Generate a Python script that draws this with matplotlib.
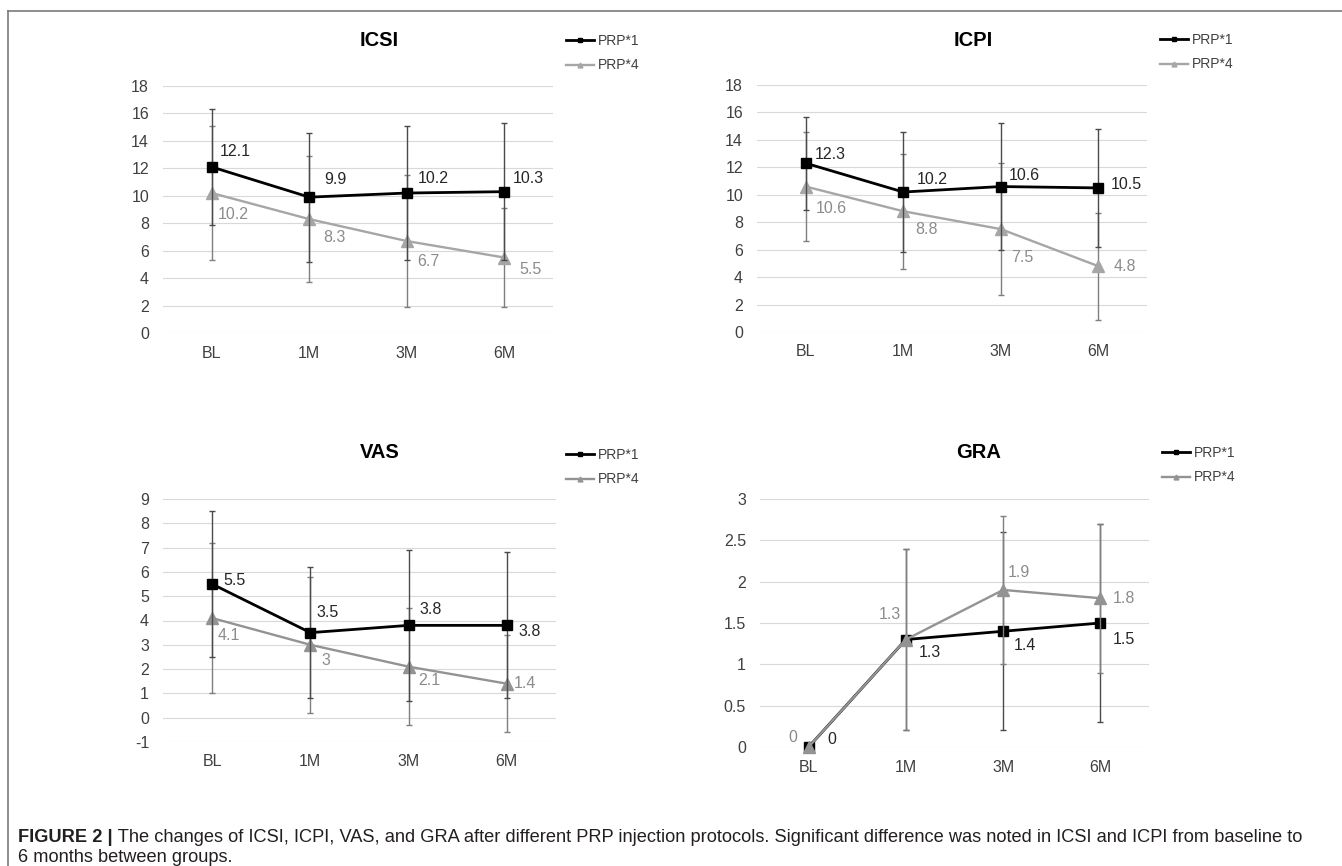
import matplotlib
matplotlib.use('Agg')
import matplotlib.pyplot as plt
from matplotlib.lines import Line2D

# ---- data ----
timepoints = ['BL', '1M', '3M', '6M']
series_names = ['PRP*1', 'PRP*4']

icsi_prp1 = [12.1, 9.9, 10.2, 10.3]
icsi_prp1_sd = [4.2, 4.7, 4.9, 5.0]
icsi_prp4 = [10.2, 8.3, 6.7, 5.5]
icsi_prp4_sd = [4.9, 4.6, 4.8, 3.6]

icpi_prp1 = [12.3, 10.2, 10.6, 10.5]
icpi_prp1_sd = [3.4, 4.4, 4.6, 4.3]
icpi_prp4 = [10.6, 8.8, 7.5, 4.8]
icpi_prp4_sd = [4.0, 4.2, 4.8, 3.9]

vas_prp1 = [5.5, 3.5, 3.8, 3.8]
vas_prp1_sd = [3.0, 2.7, 3.1, 3.0]
vas_prp4 = [4.1, 3.0, 2.1, 1.4]
vas_prp4_sd = [3.1, 2.8, 2.4, 2.0]

gra_prp1 = [0, 1.3, 1.4, 1.5]
gra_prp1_sd = [0, 1.1, 1.2, 1.2]
gra_prp4 = [0, 1.3, 1.9, 1.8]
gra_prp4_sd = [0, 1.1, 0.9, 0.9]

caption_bold = 'FIGURE 2 |'
caption_1 = (' The changes of ICSI, ICPI, VAS, and GRA after different PRP injection protocols. '
             'Significant difference was noted in ICSI and ICPI from baseline to')
caption_2 = '6 months between groups.'

# ---- layout / style (pixel coords of the 1342x866 picture) ----
W, H = 1342, 866
plt.rcParams['font.family'] = ['Liberation Sans', 'DejaVu Sans']

panels = [
    dict(title='ICSI', p1=icsi_prp1, e1=icsi_prp1_sd, p4=icsi_prp4, e4=icsi_prp4_sd,
         box=(163, 86, 553, 333), ylim=(0, 18), yticks=[0, 2, 4, 6, 8, 10, 12, 14, 16, 18],
         title_at=(379, 40), legend_at=(566, 34), gray='#a6a6a6', gray_top=False,
         off1=[(8, 15, 'left'), (15, 18, 'left'), (11, 15, 'left'), (9, 13, 'left')],
         off4=[(6, -21, 'left'), (14, -18, 'left'), (10, -20, 'left'), (15, -12, 'left')]),
    dict(title='ICPI', p1=icpi_prp1, e1=icpi_prp1_sd, p4=icpi_prp4, e4=icpi_prp4_sd,
         box=(757, 85, 1147, 332), ylim=(0, 18), yticks=[0, 2, 4, 6, 8, 10, 12, 14, 16, 18],
         title_at=(973, 40), legend_at=(1160, 33), gray='#a6a6a6', gray_top=False,
         off1=[(9, 9, 'left'), (14, 13, 'left'), (8, 11, 'left'), (12, 3, 'left')],
         off4=[(10, -22, 'left'), (12, -18, 'left'), (10, -28, 'left'), (15, 0, 'left')]),
    dict(title='VAS', p1=vas_prp1, e1=vas_prp1_sd, p4=vas_prp4, e4=vas_prp4_sd,
         box=(163, 499, 556, 742), ylim=(-1, 9), yticks=list(range(-1, 10)),
         title_at=(380, 453), legend_at=(566, 448), gray='#939393', gray_top=False,
         off1=[(11, 4, 'left'), (6, 20, 'left'), (11, 16, 'left'), (12, -6, 'left')],
         off4=[(6, -17, 'left'), (11, -16, 'left'), (10, -14, 'left'), (7, 0, 'left')]),
    dict(title='GRA', p1=gra_prp1, e1=gra_prp1_sd, p4=gra_prp4, e4=gra_prp4_sd,
         box=(760, 499, 1149, 747), ylim=(0, 3), yticks=[0, 0.5, 1, 1.5, 2, 2.5, 3],
         title_at=(979, 452), legend_at=(1162, 446), gray='#939393', gray_top=True,
         off1=[(19, 8, 'left'), (13, -13, 'left'), (11, -14, 'left'), (12, -16, 'left')],
         off4=[(-11, 9, 'right'), (-5, 25, 'right'), (5, 17, 'left'), (12, 0, 'left')]),
]

tick_color = '#404040'
black = '#000000'
err_black = '#4a4a4a'
err_gray = '#7f7f7f'
lab_black = '#262626'
lab_gray = '#8c8c8c'
PX = 0.72  # points per pixel at 100 dpi

fig = plt.figure(figsize=(W / 100, H / 100), dpi=100)

for p in panels:
    x0, y0, x1, y1 = p['box']
    ax = fig.add_axes([x0 / W, 1 - y1 / H, (x1 - x0) / W, (y1 - y0) / H])
    xs = list(range(len(timepoints)))

    z_black, z_gray = (4, 6) if p['gray_top'] else (6, 4)
    for vals, errs, col, ecol, mk, ms, lw, z in [
        (p['p1'], p['e1'], black, err_black, 's', 7.5, 2.0, z_black),
        (p['p4'], p['e4'], p['gray'], err_gray, '^', 8.5, 1.7, z_gray),
    ]:
        idx = [i for i in xs if errs[i] > 0]
        eb = ax.errorbar([xs[i] for i in idx], [vals[i] for i in idx],
                         yerr=[errs[i] for i in idx], fmt='none', ecolor=ecol,
                         elinewidth=1.0, capsize=2.2, capthick=1.0, zorder=z - 1)
        for art in list(eb.lines[1]) + list(eb.lines[2]):
            art.set_clip_on(False)
        ax.plot(xs, vals, color=col, lw=lw, marker=mk, markersize=ms,
                zorder=z, clip_on=False)

    for vals, offs, col in [(p['p1'], p['off1'], lab_black), (p['p4'], p['off4'], lab_gray)]:
        for i, v in enumerate(vals):
            dx, dy, ha = offs[i]
            ax.annotate(f'{v:g}', (i, v), xytext=(dx * PX, dy * PX), textcoords='offset points',
                        ha=ha, va='center', fontsize=11.5, color=col, zorder=8,
                        annotation_clip=False)

    ax.set_xlim(-0.5, 3.5)
    ax.set_ylim(*p['ylim'])
    ax.set_yticks(p['yticks'])
    ax.set_yticklabels([f'{t:g}' for t in p['yticks']])
    ax.set_xticks(xs)
    ax.set_xticklabels(timepoints)
    ax.tick_params(length=0, labelsize=11.5, labelcolor=tick_color)
    ax.tick_params(axis='y', pad=10)
    ax.tick_params(axis='x', pad=9)
    ax.grid(axis='y', color='#d9d9d9', lw=0.8)
    ax.set_axisbelow(True)
    for s in ax.spines.values():
        s.set_visible(False)

    tx, ty = p['title_at']
    fig.text(tx / W, 1 - ty / H, p['title'], ha='center', va='center',
             fontsize=14.5, fontweight='bold', color='#000000')

    handles = [Line2D([], [], color=black, lw=2.0, marker='s', markersize=3.5),
               Line2D([], [], color=p['gray'], lw=1.7, marker='^', markersize=3.5)]
    lx, ly = p['legend_at']
    leg = fig.legend(handles, series_names, loc='upper left',
                     bbox_to_anchor=(lx / W, 1 - ly / H), frameon=False, fontsize=10,
                     handlelength=2.0, handletextpad=0.3, labelspacing=0.75,
                     borderpad=0, borderaxespad=0)
    for t in leg.get_texts():
        t.set_color(tick_color)

# frame lines around the figure panel
fig.add_artist(Line2D([8 / W, 1], [1 - 11 / H, 1 - 11 / H], color='#7a7a7a', lw=1.2))
fig.add_artist(Line2D([8 / W, 8 / W], [0, 1 - 11 / H], color='#7a7a7a', lw=1.2))

# caption
fig.canvas.draw()
r = fig.canvas.get_renderer()
cap_size = 11
t1 = fig.text(18 / W, 1 - 837 / H, caption_bold, ha='left', va='center',
              fontsize=cap_size, fontweight='bold', color='#231f20')
bb = t1.get_window_extent(r)
t2 = fig.text(bb.x1 / W, 1 - 837 / H, caption_1, ha='left', va='center',
              fontsize=cap_size, color='#231f20')
bb2 = t2.get_window_extent(r)
scale = (1303 - 18) / (bb2.x1 - bb.x0)
cap_size *= scale
t1.set_fontsize(cap_size)
bb = t1.get_window_extent(r)
t2.set_fontsize(cap_size)
t2.set_x(bb.x1 / W)
fig.text(18 / W, 1 - 857 / H, caption_2, ha='left', va='center',
         fontsize=cap_size, color='#231f20')

fig.savefig('out.png', dpi=100)
